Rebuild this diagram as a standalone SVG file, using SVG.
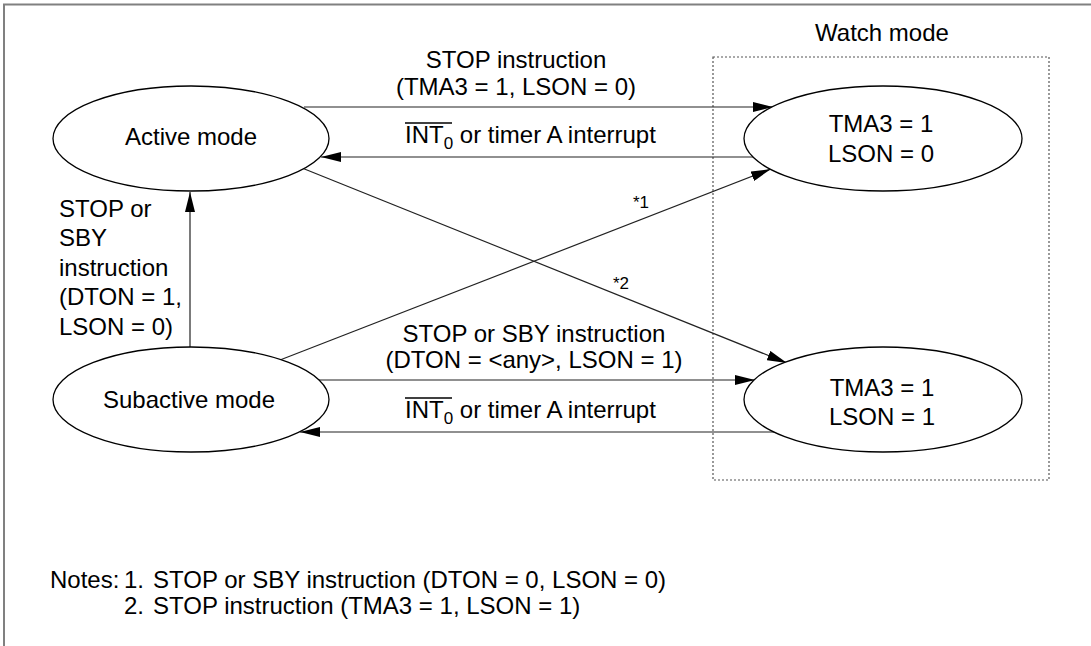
<svg xmlns="http://www.w3.org/2000/svg" width="1091" height="646" viewBox="0 0 1091 646">
<style>
text{font-family:"Liberation Sans",Arial,sans-serif;fill:#000;}
.lbl{font-size:24px;}
.mid{text-anchor:middle;}
.sm{font-size:17px;}
.node{fill:#fff;stroke:#000;stroke-width:1.3;}
.con{stroke:#222;stroke-width:1.2;fill:none;marker-end:url(#arr);}
</style>
<defs>
<marker id="arr" markerUnits="userSpaceOnUse" markerWidth="20" markerHeight="10" refX="20" refY="5" orient="auto">
<path d="M0,0 L20,5 L0,10 z" fill="#000"/>
</marker>
</defs>
<rect width="1091" height="646" fill="#fff"/>
<g id="frame">
<path d="M3,4.5 H1091 M4,4 V646" stroke="#808080" stroke-width="2" fill="none"/>
</g>
<g id="watch-group">
<rect x="713" y="57" width="336" height="423" fill="none" stroke="#555" stroke-width="1.2" stroke-dasharray="2,2"/>
<text class="lbl mid" x="882" y="41">Watch mode</text>
</g>
<g id="connectors">
<line class="con" x1="304" y1="107" x2="773" y2="107"/>
<line class="con" x1="753" y1="157" x2="321" y2="157"/>
<line class="con" x1="190" y1="347" x2="190" y2="192"/>
<line class="con" x1="280" y1="360" x2="771" y2="169"/>
<line class="con" x1="302" y1="168" x2="787" y2="363"/>
<line class="con" x1="318" y1="380" x2="755" y2="380"/>
<line class="con" x1="776" y1="432" x2="300" y2="432"/>
</g>
<g id="active">
<ellipse class="node" cx="191" cy="138.5" rx="138" ry="52.5"/>
<text class="lbl mid" x="191" y="145">Active mode</text>
</g>
<g id="subactive">
<ellipse class="node" cx="191" cy="399.5" rx="138" ry="52.5"/>
<text class="lbl mid" x="189" y="408">Subactive mode</text>
</g>
<g id="watch-lson0">
<ellipse class="node" cx="883" cy="138.5" rx="139" ry="52.5"/>
<text class="lbl mid" x="881" y="132">TMA3 = 1</text>
<text class="lbl mid" x="881" y="162">LSON = 0</text>
</g>
<g id="watch-lson1">
<ellipse class="node" cx="883" cy="399.5" rx="139" ry="52.5"/>
<text class="lbl mid" x="882" y="396">TMA3 = 1</text>
<text class="lbl mid" x="882" y="425">LSON = 1</text>
</g>
<g id="labels">
<text class="lbl mid" x="516" y="68">STOP instruction</text>
<text class="lbl mid" x="516" y="95">(TMA3 = 1, LSON = 0)</text>
<text class="lbl" x="405" y="143">INT<tspan class="sm" dy="6">0</tspan><tspan dy="-6"> or timer A interrupt</tspan></text>
<line x1="405" y1="123" x2="452" y2="123" stroke="#000" stroke-width="1.3"/>
<text class="lbl mid" x="534" y="342">STOP or SBY instruction</text>
<text class="lbl mid" x="534" y="368">(DTON = &lt;any&gt;, LSON = 1)</text>
<text class="lbl" x="405" y="418">INT<tspan class="sm" dy="6">0</tspan><tspan dy="-6"> or timer A interrupt</tspan></text>
<line x1="405" y1="398" x2="452" y2="398" stroke="#000" stroke-width="1.3"/>
<text class="lbl" x="59" y="217">STOP or</text>
<text class="lbl" x="59" y="246">SBY</text>
<text class="lbl" x="59" y="276">instruction</text>
<text class="lbl" x="59" y="305">(DTON = 1,</text>
<text class="lbl" x="59" y="335">LSON = 0)</text>
<text class="sm" x="633" y="208">*1</text>
<text class="sm" x="613" y="289">*2</text>
</g>
<g id="notes">
<text class="lbl" x="50" y="588">Notes:</text>
<text class="lbl" x="124" y="588">1.</text>
<text class="lbl" x="153" y="588">STOP or SBY instruction (DTON = 0, LSON = 0)</text>
<text class="lbl" x="124" y="614">2.</text>
<text class="lbl" x="153" y="614">STOP instruction (TMA3 = 1, LSON = 1)</text>
</g>
</svg>
